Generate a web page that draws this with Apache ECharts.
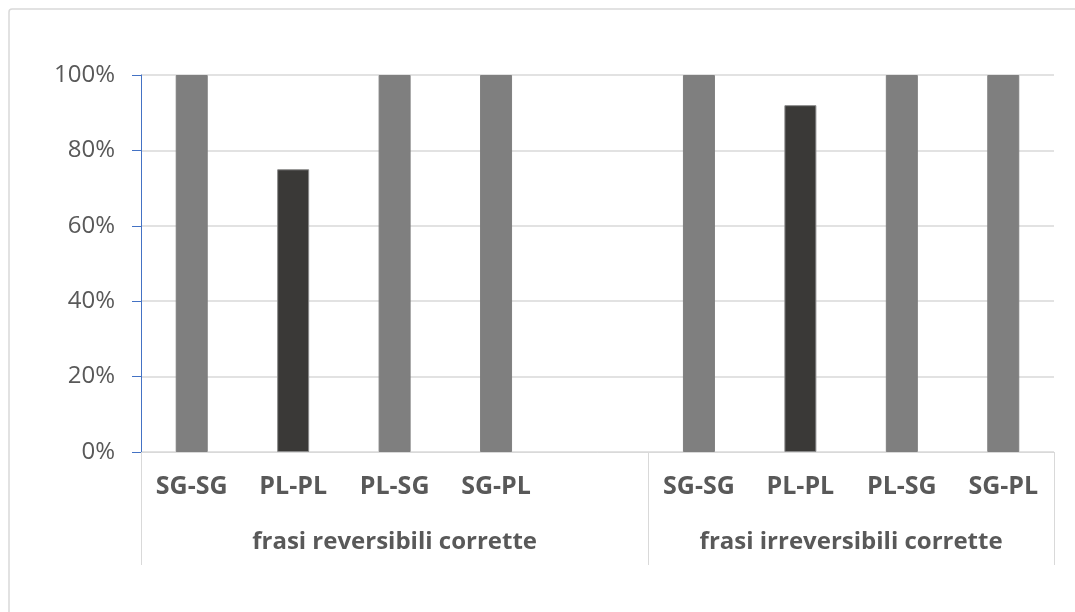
<!DOCTYPE html>
<html>
<head>
<meta charset="utf-8">
<script src="https://cdn.jsdelivr.net/npm/echarts@6/dist/echarts.min.js"></script>
<style>
html,body{margin:0;padding:0;background:#fff;}
#chart{width:1075px;height:612px;}
</style>
</head>
<body>
<div id="chart"></div>
<script>
// Data
var subCategories = ['SG-SG', 'PL-PL', 'PL-SG', 'SG-PL', '', 'SG-SG', 'PL-PL', 'PL-SG', 'SG-PL'];
var values = [100, 75, 100, 100, null, 100, 92, 100, 100];
var groupLabels = ['frasi reversibili corrette', 'frasi irreversibili corrette'];
var groupSizes = [5, 4];
var yTicks = [0, 20, 40, 60, 80, 100];

var grayColor = '#7f7f7f';
var darkColor = '#3a3937';

// group boundaries and centers in slot units
var bounds = [0];
groupSizes.forEach(function (s) { bounds.push(bounds[bounds.length - 1] + s); });
var centers = [];
for (var i = 0; i < groupSizes.length; i++) centers.push((bounds[i] + bounds[i + 1]) / 2);

var chart = echarts.init(document.getElementById('chart'));
var labelFont = '"Open Sans", "DejaVu Sans", sans-serif';

chart.setOption({
  animation: false,
  backgroundColor: '#ffffff',
  grid: { left: 141, right: 21, top: 75, bottom: 160, containLabel: false },
  graphic: [{
    type: 'rect',
    shape: { x: 9, y: 9, width: 1200, height: 800, r: 3 },
    style: { fill: 'none', stroke: '#d9d9d9', lineWidth: 1.5 },
    silent: true
  }],
  xAxis: [{
    type: 'category',
    data: subCategories,
    position: 'bottom',
    axisLine: { show: true, lineStyle: { color: '#d9d9d9', width: 1 } },
    axisTick: { show: false },
    axisLabel: {
      interval: 0,
      margin: 22,
      color: '#595959',
      fontFamily: labelFont,
      fontWeight: 'bold',
      fontSize: 25
    },
    splitLine: { show: false }
  }, {
    type: 'value',
    position: 'bottom',
    min: 0,
    max: bounds[bounds.length - 1],
    axisLine: { show: false },
    splitLine: { show: false },
    axisTick: {
      show: true,
      customValues: bounds,
      length: 113,
      lineStyle: { color: '#d9d9d9', width: 1 }
    },
    axisLabel: {
      show: true,
      customValues: centers,
      margin: 78,
      color: '#595959',
      fontFamily: labelFont,
      fontWeight: 'bold',
      fontSize: 24,
      formatter: function (v) {
        var idx = centers.indexOf(v);
        return idx >= 0 ? groupLabels[idx] : '';
      }
    }
  }],
  yAxis: {
    type: 'value',
    min: yTicks[0],
    max: yTicks[yTicks.length - 1],
    interval: 20,
    axisLine: { show: true, lineStyle: { color: '#4472c4', width: 1 } },
    axisTick: { show: true, length: 9, lineStyle: { color: '#4472c4', width: 1 } },
    axisLabel: {
      margin: 26,
      color: '#595959',
      fontFamily: labelFont,
      fontSize: 24,
      formatter: function (v) { return v + '%'; }
    },
    splitLine: { show: true, lineStyle: { color: '#d9d9d9', width: 1.5 } }
  },
  series: [{
    type: 'bar',
    xAxisIndex: 0,
    barWidth: 32,
    data: values.map(function (v, i) {
      return {
        value: v,
        itemStyle: {
          color: subCategories[i] === 'PL-PL' ? darkColor : grayColor,
          borderColor: subCategories[i] === 'PL-PL' ? '#8a8a8a' : grayColor,
          borderWidth: 1
        }
      };
    })
  }]
});
</script>
</body>
</html>
